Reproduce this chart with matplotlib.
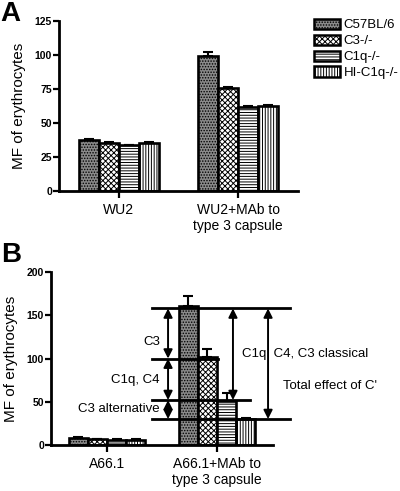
'''Figura A/B - MF de eritrocitos'''

import numpy as np
import matplotlib.pyplot as plt
from matplotlib.patches import Patch

plt.rcParams['font.family'] = ['Liberation Sans', 'DejaVu Sans']
plt.rcParams['hatch.linewidth'] = 0.7

# Datos panel A
grupos_A = ['WU2', 'WU2+MAb to\ntype 3 capsule']
cepas = ['C57BL/6', 'C3-/-', 'C1q-/-', 'HI-C1q-/-']
valores_A = [[37.7, 99.0], [35.0, 75.7], [33.6, 61.8], [35.5, 62.5]]
error_A = [[0.8, 3.0], [1.2, 0.8], [0.6, 0.8], [0.6, 0.5]]
yticks_A = [0, 25, 50, 75, 100, 125]

# Datos panel B
grupos_B = ['A66.1', 'A66.1+MAb to\ntype 3 capsule']
valores_B = [[8.0, 160.8], [6.5, 101.5], [6.0, 51.0], [6.0, 30.0]]
error_B = [[1.0, 12.0], [0.8, 10.0], [0.8, 9.0], [0.5, 1.0]]
yticks_B = [0, 50, 100, 150, 200]

# Niveles y anotaciones del panel B
niveles = [158, 100, 52, 30]
niveles_fin = [1.664, 1.009, 1.30, 1.664]
flechas = [(0.555, 158, 100), (0.555, 100, 52), (0.555, 52, 30),
           (1.145, 158, 52), (1.464, 158, 30)]
textos_izq = [('C3', 119), ('C1q, C4', 75), ('C3 alternative', 42)]
textos_der = [(1.227, 105, 'C1q  C4, C3 classical'), (1.60, 68, "Total effect of C'")]

# Estilos de barra
caras = ['#8a8a8a', 'white', 'white', 'white']
tramas = ['......', 'xxxxxx', '------', '||||||']

fig = plt.figure(figsize=(4.0, 4.91), dpi=100)
axA = fig.add_axes([0.1475, 0.611, 0.5975, 0.346])
axB = fig.add_axes([0.1275, 0.0937, 0.555, 0.352])


def barras(ax, valores, errores, ancho):
    x = np.arange(2)
    for i in range(4):
        pos = x + (i - 1.5) * ancho
        ax.bar(pos, valores[i], ancho, color=caras[i], edgecolor='black',
               linewidth=1.9, hatch=tramas[i], zorder=2)
        ax.errorbar(pos, valores[i], yerr=[np.zeros(2), errores[i]], fmt='none',
                    ecolor='black', elinewidth=1.5, capsize=3.5, capthick=1.5, zorder=1)
    for s in ['top', 'right']:
        ax.spines[s].set_visible(False)
    for s in ['left', 'bottom']:
        ax.spines[s].set_linewidth(2.0)
    ax.tick_params(axis='y', width=1.6, length=4, labelsize=7.5, pad=1)
    ax.tick_params(axis='x', width=1.6, length=5, labelsize=10, pad=4)
    ax.set_ylabel('MF of erythrocytes', fontsize=11)


barras(axA, valores_A, error_A, 0.168)
axA.set_xlim(-0.504, 1.504)
axA.set_ylim(0, 125)
axA.set_yticks(yticks_A)
axA.set_xticks([0, 1])
axA.set_xticklabels(grupos_A, linespacing=1.1)
for t in axA.get_yticklabels():
    t.set_fontweight('bold')
axA.yaxis.set_label_coords(-0.14, 0.5)

barras(axB, valores_B, error_B, 0.173)
axB.set_xlim(-0.509, 1.509)
axB.set_ylim(0, 200)
axB.set_yticks(yticks_B)
axB.set_xticks([0, 1])
axB.set_xticklabels(grupos_B, linespacing=1.1)
for t in axB.get_yticklabels():
    t.set_fontweight('bold')
axB.yaxis.set_label_coords(-0.15, 0.5)

# Lineas de nivel y flechas
for y, xf in zip(niveles, niveles_fin):
    axB.plot([0.41, xf], [y, y], color='black', lw=2.0, clip_on=False, zorder=3)
for xa, y1, y2 in flechas:
    axB.annotate('', xy=(xa, y2), xytext=(xa, y1),
                 arrowprops=dict(arrowstyle='<|-|>', color='black', lw=1.4,
                                 mutation_scale=13, shrinkA=0, shrinkB=0),
                 annotation_clip=False, zorder=4)
for txt, y in textos_izq:
    axB.text(0.48, y, txt, ha='right', va='center', fontsize=9.5, zorder=5)
for xt, y, txt in textos_der:
    axB.text(xt, y, txt, ha='left', va='center', fontsize=9.5, clip_on=False)

# Leyenda
handles = [Patch(facecolor=caras[i], edgecolor='black', hatch=tramas[i], linewidth=1.8)
           for i in range(4)]
fig.legend(handles, cepas, loc='upper left', bbox_to_anchor=(0.785, 0.962),
           frameon=False, fontsize=9.5, handlelength=2.0, handleheight=0.8,
           labelspacing=0.25, handletextpad=0.25, borderaxespad=0, borderpad=0)

fig.text(0.002, 0.998, 'A', fontsize=20, fontweight='bold', va='top')
fig.text(0.004, 0.508, 'B', fontsize=20, fontweight='bold', va='top')

fig.savefig('out.png', dpi=100)
